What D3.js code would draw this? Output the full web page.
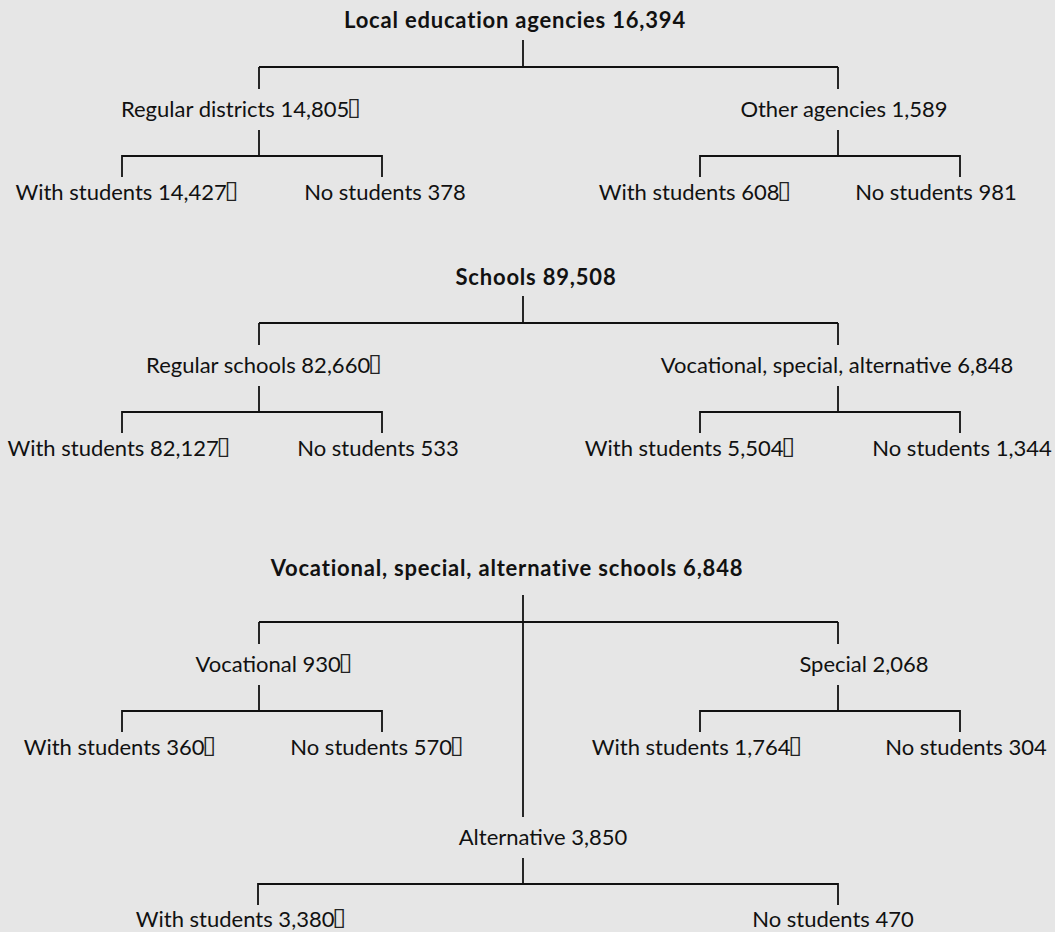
<!DOCTYPE html>
<html><head><meta charset="utf-8">
<script src="https://cdn.jsdelivr.net/npm/d3@7"></script>
<style>html,body{margin:0;padding:0;background:#e6e6e6;} svg{display:block;}</style>
</head><body><svg id="chart"></svg>
<script>
// ---------- data ----------
const sectionTitles = ["Local education agencies", "Schools", "Vocational, special, alternative schools"];
const sectionTotals = [16394, 89508, 6848];
const leafLabels = ["With students", "No students"];

const agencyTypes = ["Regular districts", "Other agencies"];
const agencyCounts = [14805, 1589];
const agencyWithStudents = [14427, 608];
const agencyNoStudents = [378, 981];
const agencyCountNote = [true, false];
const agencyWithNote = [true, true];
const agencyNoNote = [false, false];

const schoolTypes = ["Regular schools", "Vocational, special, alternative"];
const schoolCounts = [82660, 6848];
const schoolWithStudents = [82127, 5504];
const schoolNoStudents = [533, 1344];
const schoolCountNote = [true, false];
const schoolWithNote = [true, true];
const schoolNoNote = [false, false];

const vsaTypes = ["Vocational", "Special", "Alternative"];
const vsaCounts = [930, 2068, 3850];
const vsaWithStudents = [360, 1764, 3380];
const vsaNoStudents = [570, 304, 470];
const vsaCountNote = [true, false, false];
const vsaWithNote = [true, true, true];
const vsaNoNote = [true, false, false];

const noteMark = "\u25AF";

// ---------- layout ----------
const W = 1055, H = 932;
const slotKeys = ["root", "L", "R", "C", "LL", "LR", "RL", "RR", "CL", "CR"];
const xSlot = d3.scaleOrdinal().domain(slotKeys).range([523, 259, 838, 523, 122, 382, 700, 960, 258, 838]);
const childSlots = ["L", "R", "C"];
const leafSlots = ["L", "R"];
const barY = [67, 323, 622];
const titleY = [28, 285, 576];
const labelShift = [
  {root: -8, L: -18, R: 6, LL: 5, LR: 3, RL: -5, RR: -24},
  {root: 13, L: 5, R: -1, LL: -3, LR: -4, RL: -10, RR: 2},
  {root: -16, L: 15, R: 26, C: 20, LL: -2, LR: -5, RL: -3, RR: 6, CL: -17, CR: -5}
];

const svg = d3.select("#chart").attr("width", W).attr("height", H);
svg.append("rect").attr("width", W).attr("height", H).attr("fill", "#e6e6e6");
const fmt = d3.format(",");
const FONT = "Lato, 'Open Sans', sans-serif";
const INK = "#111";

function buildSection(title, total, types, counts, countNotes, withVals, withNotes, noVals, noNotes) {
  return {
    name: title, value: total, note: false,
    children: types.map((t, i) => ({
      name: t, value: counts[i], note: countNotes[i],
      children: [
        {name: leafLabels[0], value: withVals[i], note: withNotes[i]},
        {name: leafLabels[1], value: noVals[i], note: noNotes[i]}
      ]
    }))
  };
}

const sections = [
  buildSection(sectionTitles[0], sectionTotals[0], agencyTypes, agencyCounts, agencyCountNote, agencyWithStudents, agencyWithNote, agencyNoStudents, agencyNoNote),
  buildSection(sectionTitles[1], sectionTotals[1], schoolTypes, schoolCounts, schoolCountNote, schoolWithStudents, schoolWithNote, schoolNoStudents, schoolNoNote),
  buildSection(sectionTitles[2], sectionTotals[2], vsaTypes, vsaCounts, vsaCountNote, vsaWithStudents, vsaWithNote, vsaNoStudents, vsaNoNote)
];

function label(g, node, x, y, bold) {
  const t = g.append("text").attr("x", x).attr("y", y)
    .attr("text-anchor", "middle")
    .attr("font-family", FONT).attr("font-size", 22)
    .attr("font-weight", bold ? 700 : 400)
    .attr("letter-spacing", bold ? 0.8 : 0)
    .attr("fill", INK);
  t.append("tspan").text(node.data.name + " " + fmt(node.data.value));
  if (node.data.note) {
    t.append("tspan").attr("font-family", "'DejaVu Sans'").attr("font-size", 25)
      .attr("font-weight", 400).attr("fill", "#222").attr("dx", -2).attr("dy", -2).text(noteMark);
  }
}

sections.forEach((sec, s) => {
  const root = d3.hierarchy(sec);
  const b = barY[s];
  root.key = "root";
  root.children.forEach((c, i) => {
    c.key = childSlots[i];
    c.children.forEach((l, j) => { l.key = c.key + leafSlots[j]; });
  });
  root.each(n => { n.x = xSlot(n.key); n.shift = labelShift[s][n.key] || 0; });

  const g = svg.append("g");
  const lines = g.append("g").attr("fill", "none").attr("stroke", INK).attr("stroke-width", 1.8);

  // root
  label(g, root, root.x + root.shift, titleY[s], true);
  lines.append("line").attr("x1", root.x).attr("x2", root.x).attr("y1", b - 27).attr("y2", b);
  const xs = root.children.map(c => c.x);
  lines.append("line").attr("x1", d3.min(xs)).attr("x2", d3.max(xs)).attr("y1", b).attr("y2", b);

  root.children.forEach(c => {
    const sub = c.key === "C" ? b + 262 : b + 89;
    const lblY = sub - 39;
    lines.append("line").attr("x1", c.x).attr("x2", c.x).attr("y1", b).attr("y2", lblY - 28);
    label(g, c, c.x + c.shift, lblY, false);
    lines.append("line").attr("x1", c.x).attr("x2", c.x).attr("y1", sub - 26).attr("y2", sub);
    const lx = c.children.map(l => l.x);
    lines.append("path").attr("d", `M${lx[0]},${sub + 21}V${sub}H${lx[1]}V${sub + 21}`);
    const leafY = Math.min(sub + 44, H - 5);
    c.children.forEach(l => label(g, l, l.x + l.shift, leafY, false));
  });
});
</script>
</body></html>
